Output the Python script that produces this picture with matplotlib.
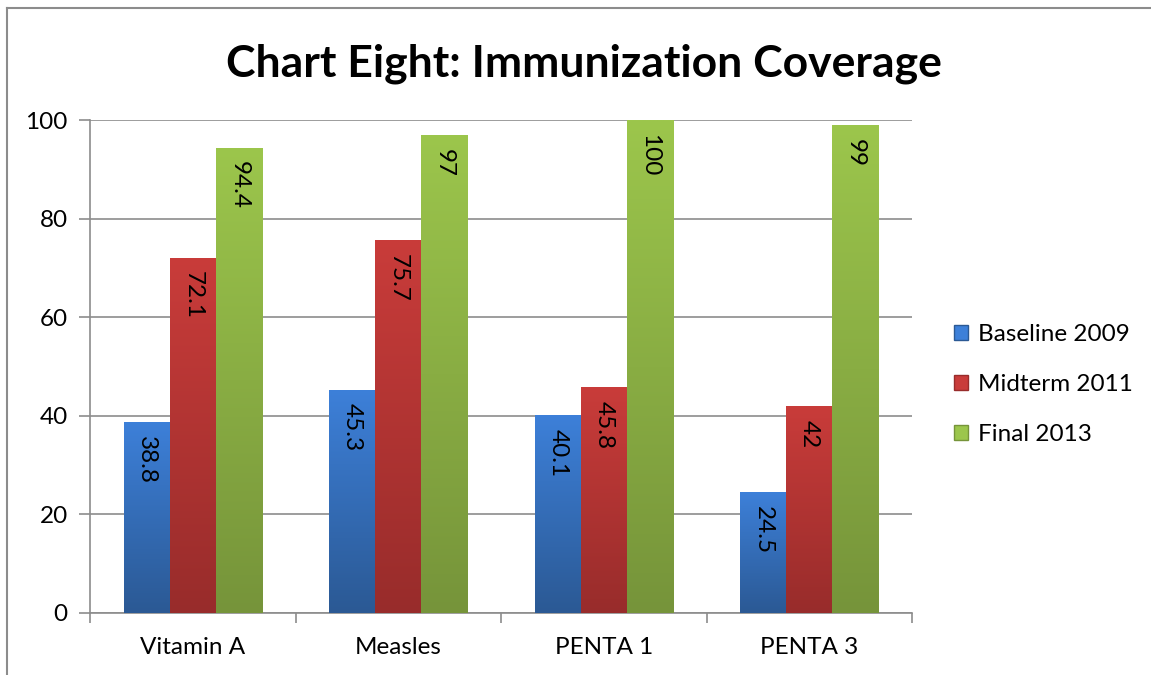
import matplotlib.pyplot as plt
import numpy as np
from matplotlib.colors import LinearSegmentedColormap
from matplotlib.patches import Patch

categories = ['Vitamin A', 'Measles', 'PENTA 1', 'PENTA 3']
series = ['Baseline 2009', 'Midterm 2011', 'Final 2013']
baseline = [38.8, 45.3, 40.1, 24.5]
midterm = [72.1, 75.7, 45.8, 42]
final = [94.4, 97, 100, 99]
labels = [['38.8', '45.3', '40.1', '24.5'],
          ['72.1', '75.7', '45.8', '42'],
          ['94.4', '97', '100', '99']]

# top / bottom colours of each bar gradient
grads = [('#3d80d9', '#2b5994'), ('#c93c3a', '#982c2b'), ('#9cc64c', '#76943a')]
plt.rcParams['font.family'] = ['Lato', 'DejaVu Sans']
fs = 17.5

fig = plt.figure(figsize=(11.51, 6.75), dpi=100)
ax = fig.add_axes([0.0782, 0.0919, 0.7142, 0.7303])

x = np.arange(len(categories))
w = 0.224
grad = np.linspace(0, 1, 256).reshape(-1, 1)
for i, vals in enumerate([baseline, midterm, final]):
    cmap = LinearSegmentedColormap.from_list('g%d' % i, [grads[i][1], grads[i][0]])
    bars = ax.bar(x + (i - 1) * w, vals, w, color=grads[i][0], zorder=3)
    for b, lab in zip(bars, labels[i]):
        bx, by = b.get_x(), b.get_y()
        bw, bh = b.get_width(), b.get_height()
        b.set_facecolor('none')
        im = ax.imshow(grad, cmap=cmap, origin='lower', aspect='auto',
                       extent=[bx, bx + bw, by, by + bh], zorder=3)
        im.set_clip_path(b)
        ax.text(bx + bw / 2, bh - 2.8, lab, rotation=270, ha='center', va='top',
                fontsize=fs, zorder=4)

ax.set_xlim(-0.5, 3.5)
ax.set_ylim(0, 100)
ax.set_yticks(range(0, 101, 20))
ax.grid(axis='y', color='#8c8c8c', linewidth=1.2, zorder=0)
ax.set_xticks(x)
ax.set_xticklabels(categories)
ax.set_xticks(np.arange(-0.5, 4, 1), minor=True)
ax.tick_params(axis='x', which='major', length=0, pad=17, labelsize=fs)
ax.tick_params(axis='x', which='minor', length=7, color='#8c8c8c', width=1.2)
ax.tick_params(axis='y', length=8, color='#8c8c8c', width=1.2, pad=8, labelsize=fs)
for s in ['top', 'right']:
    ax.spines[s].set_visible(False)
for s in ['left', 'bottom']:
    ax.spines[s].set_color('#8c8c8c')
    ax.spines[s].set_linewidth(1.2)

handles = [Patch(facecolor=grads[i][0], edgecolor=grads[i][1]) for i in range(3)]
fig.legend(handles, series, loc='center left', bbox_to_anchor=(0.81, 0.43),
           frameon=False, fontsize=fs, handlelength=0.55, handleheight=0.55,
           handletextpad=0.45, labelspacing=1.2)

fig.text(0.507, 0.905, 'Chart Eight: Immunization Coverage', ha='center', va='center',
         fontsize=32, fontweight='bold')

# chart border (only left and top edges visible)
fig.add_artist(plt.Line2D([0.0065, 0.0065], [0, 0.988], color='#8c8c8c', linewidth=1.5))
fig.add_artist(plt.Line2D([0.0065, 1], [0.988, 0.988], color='#8c8c8c', linewidth=1.5))

fig.savefig('out.png', dpi=100)
